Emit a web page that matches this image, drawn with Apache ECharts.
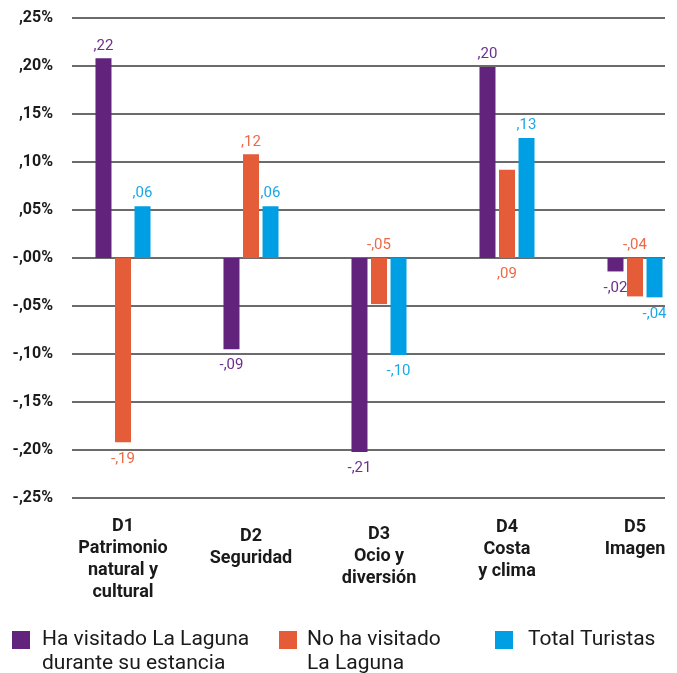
<!DOCTYPE html>
<html>
<head>
<meta charset="utf-8">
<script src="https://cdn.jsdelivr.net/npm/echarts@6/dist/echarts.min.js"></script>
<style>
  html, body { margin: 0; padding: 0; background: #fff; }
  #chart { width: 677px; height: 673px; }
</style>
</head>
<body>
<div id="chart"></div>
<script>
// categorias (dimensiones)
var categories = ['D1\nPatrimonio\nnatural y\ncultural', 'D2\nSeguridad', 'D3\nOcio y\ndiversión', 'D4\nCosta\ny clima', 'D5\nImagen'];

// series
var seriesNames = ['Ha visitado La Laguna\ndurante su estancia', 'No ha visitado\nLa Laguna', 'Total Turistas'];
var visitadoValues   = [0.208, -0.095, -0.202, 0.199, -0.014];
var noVisitadoValues = [-0.192, 0.108, -0.048, 0.092, -0.040];
var totalValues      = [0.054, 0.054, -0.101, 0.125, -0.041];

// etiquetas impresas sobre las barras
var visitadoLabels   = [',22', '-,09', '-,21', ',20', '-,02'];
var noVisitadoLabels = ['-,19', ',12', '-,05', ',09', '-,04'];
var totalLabels      = [',06', ',06', '-,10', ',13', '-,04'];

// etiquetas del eje Y
var yTickLabels = ['-,25%', '-,20%', '-,15%', '-,10%', '-,05%', '-,00%', ',05%', ',10%', ',15%', ',20%', ',25%'];

var colors = ['#62237d', '#e55c38', '#009fe3'];
var labelColors = ['#6b2f8f', '#ec6a47', '#1aa9e6'];

// en la serie naranja algunas etiquetas van pegadas al eje cero
var noVisitadoPos = ['outside', 'outside', 'top', 'bottom', 'top'];
// desplazamiento vertical de cada etiqueta de categoria
var catLabelPad = [0, 10, 8, 1, 1];

function buildData(values, labels, color, positions) {
  return values.map(function (v, i) {
    var pos = positions ? positions[i] : 'outside';
    var below = (pos === 'outside' && v < 0) || pos === 'bottom';
    return {
      value: v,
      label: {
        show: true,
        position: pos,
        distance: below ? 9 : 5,
        color: color,
        fontFamily: 'Roboto',
        fontSize: 15,
        formatter: labels[i]
      }
    };
  });
}

var chart = echarts.init(document.getElementById('chart'));

var legendText = { fontFamily: 'Roboto', fontSize: 21, color: '#1a1a1a', lineHeight: 24 };

var option = {
  backgroundColor: '#fff',
  animation: false,
  color: colors,
  grid: [
    { left: 72, right: 12, top: 18, bottom: 175, outerBoundsMode: 'none' },
    { left: 59, width: 640, top: 18, bottom: 175, outerBoundsMode: 'none' }
  ],
  xAxis: [
    { type: 'value', gridIndex: 0, show: false, min: 0, max: 1 },
    {
      type: 'category',
      gridIndex: 1,
      data: categories.map(function (c, i) {
        return { value: c, textStyle: { padding: [catLabelPad[i], 0, 0, 0] } };
      }),
      axisLine: { show: false },
      axisTick: { show: false },
      axisLabel: {
        interval: 0,
        margin: 17,
        color: '#1a1a1a',
        fontFamily: 'Roboto',
        fontWeight: 'bold',
        fontSize: 18,
        lineHeight: 22,
        verticalAlign: 'top'
      }
    }
  ],
  yAxis: [
    {
      type: 'value',
      gridIndex: 0,
      min: -0.25,
      max: 0.25,
      interval: 0.05,
      axisLine: { show: false },
      axisTick: { show: false },
      splitLine: { lineStyle: { color: '#3a3a3a', width: 1.6 } },
      axisLabel: {
        margin: 19,
        color: '#1a1a1a',
        fontFamily: 'Roboto',
        fontWeight: 'bold',
        fontSize: 16,
        formatter: function (value) {
          return yTickLabels[Math.round((value + 0.25) / 0.05)];
        }
      }
    },
    { type: 'value', gridIndex: 1, min: -0.25, max: 0.25, interval: 0.05, show: false }
  ],
  legend: [
    {
      data: [seriesNames[0]], left: 12, top: 604, padding: 0,
      icon: 'rect', itemWidth: 18, itemHeight: 18, selectedMode: false,
      formatter: function (name) { return '\n' + name; },
      textStyle: Object.assign({ padding: [0, 0, 0, 7] }, legendText)
    },
    {
      data: [seriesNames[1]], left: 279, top: 604, padding: 0,
      icon: 'rect', itemWidth: 18, itemHeight: 18, selectedMode: false,
      formatter: function (name) { return '\n' + name; },
      textStyle: Object.assign({ padding: [0, 0, 0, 5] }, legendText)
    },
    {
      data: [seriesNames[2]], left: 495, top: 628, padding: 0,
      icon: 'rect', itemWidth: 18, itemHeight: 18, selectedMode: false,
      textStyle: Object.assign({ padding: [0, 0, 0, 10] }, legendText)
    }
  ],
  series: [
    {
      name: seriesNames[0], type: 'bar', xAxisIndex: 1, yAxisIndex: 1,
      barWidth: 16, barGap: '22%',
      data: buildData(visitadoValues, visitadoLabels, labelColors[0])
    },
    {
      name: seriesNames[1], type: 'bar', xAxisIndex: 1, yAxisIndex: 1,
      barWidth: 16, barGap: '22%',
      data: buildData(noVisitadoValues, noVisitadoLabels, labelColors[1], noVisitadoPos)
    },
    {
      name: seriesNames[2], type: 'bar', xAxisIndex: 1, yAxisIndex: 1,
      barWidth: 16, barGap: '22%',
      data: buildData(totalValues, totalLabels, labelColors[2])
    }
  ]
};

chart.setOption(option);
</script>
</body>
</html>
